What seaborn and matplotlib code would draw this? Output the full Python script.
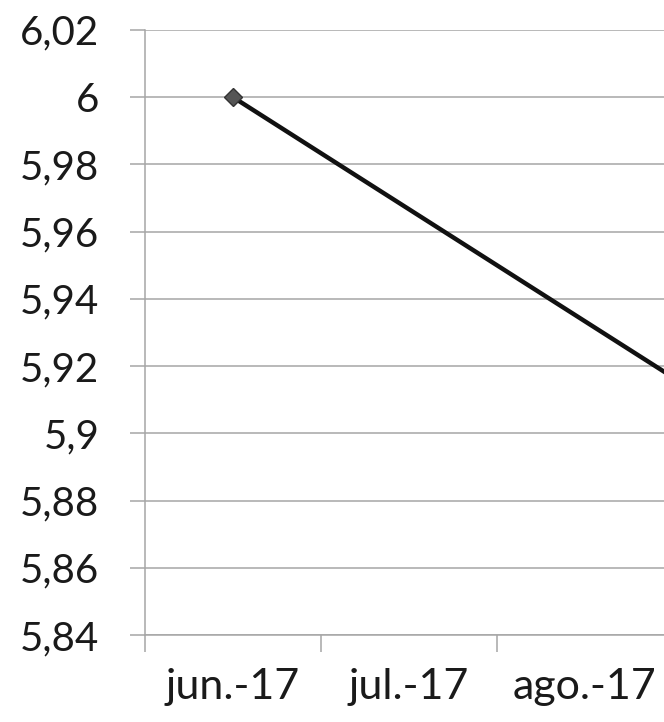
import numpy as np
import pandas as pd
import matplotlib
matplotlib.use('Agg')
import matplotlib.pyplot as plt
from matplotlib.ticker import FixedLocator, FuncFormatter
import seaborn as sns

# data (jul/ago have no markers -> missing, line joins the gap)
months = ["jun.-17", "jul.-17", "ago.-17", "sep.-17"]
values = [6.00, np.nan, np.nan, 5.90]
y_ticks = [5.84, 5.86, 5.88, 5.90, 5.92, 5.94, 5.96, 5.98, 6.00, 6.02]

df = pd.DataFrame({"pos": np.arange(len(months)), "month": months, "value": values})

sns.set_style("white")
plt.rcParams['font.family'] = ['Lato', 'DejaVu Sans']

GRID = "#a6a6a6"

fig = plt.figure(figsize=(6.64, 7.22), dpi=100)
# the source image is a crop: the plot area runs past the right edge
ax = fig.add_axes([0.2184, 0.1205, 1.06, 0.838])

sns.lineplot(data=df.dropna(), x="pos", y="value", ax=ax,
             color="#111111", linewidth=3.2,
             marker="D", markersize=9.5, markerfacecolor="#555555",
             markeredgecolor="#333333", markeredgewidth=1)

ax.set_xlim(-0.5, len(months) - 0.5)
ax.set_ylim(y_ticks[0], y_ticks[-1])

def fmt(v, _):
    s = f"{v:.2f}".rstrip("0").rstrip(".")
    return s.replace(".", ",")

ax.yaxis.set_major_locator(FixedLocator(y_ticks))
ax.yaxis.set_major_formatter(FuncFormatter(fmt))
ax.grid(axis="y", color=GRID, linewidth=1.1)
ax.set_axisbelow(True)

ax.set_xticks(df["pos"])
ax.set_xticklabels(months)
ax.set_xticks(np.arange(len(months) + 1) - 0.5, minor=True)

ax.tick_params(axis="y", which="major", length=10.8, width=1.1, color=GRID,
               direction="out", pad=22, labelsize=29, labelcolor="#1a1a1a", left=True)
ax.tick_params(axis="x", which="major", length=0, pad=24, labelsize=31,
               labelcolor="#1a1a1a", bottom=True)
ax.tick_params(axis="x", which="minor", length=12, width=1.1, color=GRID,
               direction="out", bottom=True)

# the last month lies outside the cropped picture
ax.get_xticklabels()[-1].set_visible(False)

for side in ["top", "right"]:
    ax.spines[side].set_visible(False)
for side in ["left", "bottom"]:
    ax.spines[side].set_color(GRID)
    ax.spines[side].set_linewidth(1.1)

ax.set_xlabel("")
ax.set_ylabel("")

fig.savefig("out.png", dpi=100, facecolor="white")
